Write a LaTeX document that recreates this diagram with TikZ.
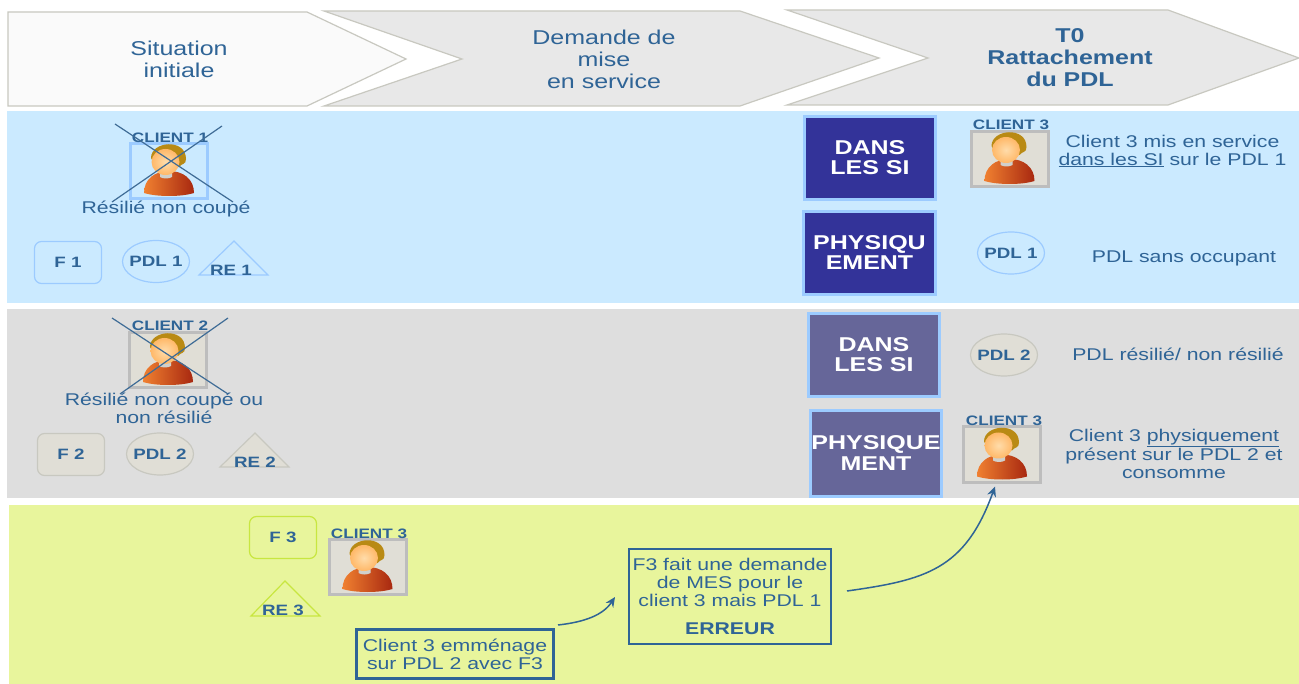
\documentclass[tikz,border=0pt]{standalone}
\usepackage{fontspec}
\setmainfont[FakeStretch=1.25]{Liberation Sans}
\usetikzlibrary{shapes.geometric,arrows.meta}
\definecolor{txt}{HTML}{2F6496}
\definecolor{bluebg}{HTML}{CBEAFF}
\definecolor{greybg}{HTML}{DEDEDE}
\definecolor{greenbg}{HTML}{E8F59C}
\definecolor{blueln}{HTML}{9CCBFF}
\definecolor{greyln}{HTML}{C8C8C0}
\definecolor{greenln}{HTML}{C8E640}
\definecolor{navy}{HTML}{333399}
\definecolor{slate}{HTML}{666699}
\definecolor{photo}{HTML}{E0DED6}
\definecolor{photoln}{HTML}{BDBDBD}
\definecolor{arrowfill}{HTML}{E8E8E8}
\definecolor{crossc}{HTML}{3F6C96}
\definecolor{hairc}{HTML}{B98A14}
\definecolor{bodyl}{HTML}{F08030}
\definecolor{bodyr}{HTML}{A82810}
\definecolor{skini}{HTML}{FFDCAA}
\definecolor{skino}{HTML}{FFB868}
\definecolor{neckc}{HTML}{D0D0CC}
\tikzset{
  x=1pt,y=-1pt,
  every node/.style={text=txt,font=\fontsize{17}{18}\selectfont,align=center,inner sep=0pt},
  band/.style={fill=#1,draw=none},
  phase/.style={fill=arrowfill,draw=greyln,line width=1.2pt},
  phasetext/.style={font=\fontsize{20}{22}\selectfont},
  bigbox/.style={fill=#1,draw=blueln,line width=2.6pt,text=white,font=\fontsize{20}{20}\selectfont\bfseries,minimum width=131,minimum height=83},
  phototile/.style={fill=photo,draw=photoln,line width=3pt,minimum width=77,minimum height=55},
  clientlab/.style={font=\fontsize{13.7}{14}\selectfont\bfseries},
  smalllab/.style={font=\fontsize{15}{16}\selectfont\bfseries},
  fbox/.style={draw=#1,line width=1.2pt,rounded corners=7pt,minimum width=67,minimum height=42,smalllab},
  pdl/.style={draw=#1,line width=1.2pt,ellipse,minimum width=67,minimum height=42},
  cross/.style={draw=crossc,line width=1.2pt},
  msg/.style={draw=txt,line width=2.2pt},
  conn/.style={draw=txt,line width=1.5pt,-{Stealth[length=10pt,width=9pt]}},
  pics/person/.style={code={
    \shade[left color=bodyl,right color=bodyr,draw=none]
      (-25,22) .. controls (-25,8) and (-14,0) .. (0,0) .. controls (14,0) and (25,8) .. (25,22) .. controls (12,26) and (-12,26) .. (-25,22) -- cycle;
    \fill[neckc] (-9,0) -- (3,0) -- (3,6) .. controls (0,8) and (-6,8) .. (-9,6) -- cycle;
    \fill[hairc] (-18,-13) .. controls (-18,-30) and (17,-33) .. (17,-12) .. controls (17,-6) and (13,-8) .. (10,-4) -- (-14,-6) -- cycle;
    \shade[inner color=skini,outer color=skino,draw=none] (-3.5,-9) ellipse [x radius=14,y radius=13];
  }},
}
\begin{document}
\begin{tikzpicture}
\useasboundingbox (0,0) rectangle (1299,684);
\fill[white] (0,0) rectangle (1299,684);
% bands
\fill[band=bluebg] (7,111) rectangle (1299,303);
\fill[band=greybg] (7,309) rectangle (1299,498);
\fill[band=greenbg] (9,505) rectangle (1299,684);
% phases
\draw[fill=white!96!gray,draw=greyln,line width=1.2pt] (8,12) -- (307,12) -- (406,59) -- (307,106) -- (8,106) -- cycle;
\draw[phase] (324,11) -- (740,11) -- (879,58) -- (740,106) -- (324,106) -- (462,59) -- cycle;
\draw[phase] (787,10) -- (1168,10) -- (1299,58) -- (1168,105) -- (787,105) -- (928,58) -- cycle;
\node[phasetext] (ph1) at (179,59.5) {Situation\\initiale};
\node[phasetext] (ph2) at (604,59) {Demande de\\mise\\en service};
\node[phasetext,font=\fontsize{20}{22}\selectfont\bfseries] (ph3) at (1070,58) {T0\\Rattachement\\du PDL};
% left column, band 1
\node[phototile,draw=blueln,fill=none] (c1) at (169,171) {};
\pic at (c1.center) {person};
\node[clientlab] (c1l) at (170,138) {CLIENT 1};
\coordinate (c1a) at (115,124);
\coordinate (c1b) at (233,202);
\coordinate (c1c) at (222,126);
\coordinate (c1d) at (112,202);
\draw[cross] (c1a) -- (c1b);
\draw[cross] (c1c) -- (c1d);
\node (c1t) at (166,209.5) {Résilié non coupé};
\node[fbox=blueln] (f1) at (68,262.5) {F 1};
\node[pdl=blueln,label={[smalllab]center:PDL 1}] (p1) at (156,261.5) {};
\draw[draw=blueln,line width=1.2pt] (234,241) -- (268,275) -- (199,275) -- cycle;
\node[smalllab] (r1) at (231,270) {RE 1};
% left column, band 2
\node[phototile] (c2) at (168,360) {};
\pic at (c2.center) {person};
\node[clientlab] (c2l) at (170,326) {CLIENT 2};
\coordinate (c2a) at (112,318);
\coordinate (c2b) at (228,394);
\coordinate (c2c) at (228,318);
\coordinate (c2d) at (120,394);
\draw[cross] (c2a) -- (c2b);
\draw[cross] (c2c) -- (c2d);
\node (c2t) at (164,408) {Résilié non coupé ou\\non résilié};
\node[fbox=greyln,fill=photo] (f2) at (71,454.5) {F 2};
\node[pdl=greyln,fill=photo,label={[smalllab]center:PDL 2}] (p2) at (160,454) {};
\draw[draw=greyln,fill=photo,line width=1.2pt] (255,433) -- (289,467) -- (220,467) -- cycle;
\node[smalllab] (r2) at (255,462) {RE 2};
% band 3
\node[fbox=greenln] (f3) at (283,537.5) {F 3};
\node[phototile] (c3) at (367.5,567) {};
\pic at (c3.center) {person};
\node[clientlab] (c3l) at (369,534) {CLIENT 3};
\draw[draw=greenln,line width=1.2pt] (285,581) -- (320,616) -- (251,616) -- cycle;
\node[smalllab] (r3) at (283,610) {RE 3};
\node[msg,minimum width=197,minimum height=49] (em) at (455,654) {Client 3 emménage\\sur PDL 2 avec F3};
\node[msg,minimum width=202,minimum height=95] (mes) at (730,596.5) {};
\node (mest) at (730,582) {F3 fait une demande\\de MES pour le\\client 3 mais PDL 1};
\node[font=\fontsize{17}{18}\selectfont\bfseries] (err) at (730,629) {ERREUR};
% middle column
\node[bigbox=navy] (si1) at (870,158) {DANS\\LES SI};
\node[bigbox=navy,minimum width=132] (ph1b) at (869.5,253) {PHYSIQU\\EMENT};
\node[bigbox=slate] (si2) at (874,355) {DANS\\LES SI};
\node[bigbox=slate,minimum height=86,font=\fontsize{20}{21}\selectfont\bfseries] (ph2b) at (876,453.5) {PHYSIQUE\\MENT};
% right column
\node[phototile] (c4) at (1009.5,159) {};
\pic at (c4.center) {person};
\node[clientlab] (c4l) at (1011,125) {CLIENT 3};
\node (t1) at (1172.5,151) {Client 3 mis en service\\\underline{dans les SI} sur le PDL 1};
\node[pdl=blueln,label={[smalllab]center:PDL 1}] (p1b) at (1011,253) {};
\node (t2) at (1184,258) {PDL sans occupant};
\node[pdl=greyln,fill=photo,label={[smalllab]center:PDL 2}] (p2b) at (1004,355) {};
\node (t3) at (1178,354) {PDL résilié/ non résilié};
\node[phototile] (c5) at (1002,454.5) {};
\pic at (c5.center) {person};
\node[clientlab] (c5l) at (1004,420.5) {CLIENT 3};
\node (t4) at (1174,454) {Client 3 \underline{physiquement}\\présent sur le PDL 2 et\\consomme};
% connectors
\coordinate (a1s) at (558,625);
\coordinate (a1e) at (615,597);
\coordinate (a2s) at (847,591);
\draw[conn] (a1s) .. controls (585,622) and (603,615) .. (a1e);
\draw[conn] (a2s) .. controls (925,580) and (965,570) .. ([xshift=-7pt,yshift=-3pt]c5.south);
\end{tikzpicture}
\end{document}
